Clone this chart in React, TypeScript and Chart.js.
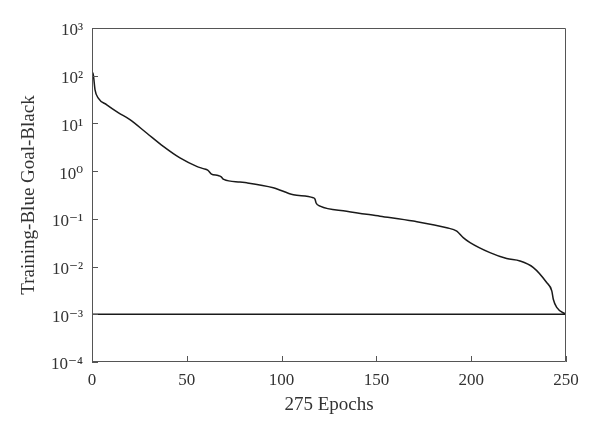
import React, { useEffect, useRef } from "react";
import { Chart, registerables } from "chart.js";

Chart.register(...registerables);

// Training curve (epoch, performance)
const epochs = [0, 0.7, 1.6, 3.3, 7.8, 14, 20, 28.8, 37.6, 46.4, 55.2, 58.7, 61, 63, 66.5, 68, 69.5, 78, 81.6, 95.6, 106.2, 116.7, 117.6, 118.2, 120.3, 134.3, 151.9, 169.5, 187.1, 192.4, 195.8, 199.4, 209.9, 218.7, 225.7, 232.8, 239.8, 242.5, 243.3, 245.1, 249.5, 250];
const trainingValues = [120, 104, 50.7, 34, 24.6, 16.7, 12, 6.3, 3.3, 1.89, 1.26, 1.13, 1.05, 0.87, 0.81, 0.77, 0.67, 0.59, 0.57, 0.45, 0.32, 0.277, 0.26, 0.215, 0.185, 0.145, 0.114, 0.0897, 0.065, 0.0555, 0.0404, 0.0318, 0.0196, 0.0147, 0.0131, 0.00953, 0.00463, 0.0031, 0.00207, 0.00139, 0.00102, 0.001];

// Goal line
const goalEpochs = [0, 250];
const goalValues = [0.001, 0.001];

const yTickValues = [1e-4, 1e-3, 1e-2, 1e-1, 1, 10, 100, 1000];
const yTickLabels = ["10⁻⁴", "10⁻³", "10⁻²", "10⁻¹", "10⁰", "10¹", "10²", "10³"];
const xTickValues = [0, 50, 100, 150, 200, 250];

const xTitle = "275 Epochs";
const yTitle = "Training-Blue Goal-Black";

const FONT = "'Liberation Serif', 'DejaVu Serif', serif";
const TEXT_COLOR = "#333";
const FRAME_COLOR = "#555";

const framePlugin = {
  id: "frameAndTicks",
  afterDraw(chart: any) {
    const { ctx, chartArea, scales } = chart;
    const { left, right, top, bottom } = chartArea;
    ctx.save();
    ctx.strokeStyle = FRAME_COLOR;
    ctx.lineWidth = 1;
    ctx.beginPath();
    ctx.rect(left + 0.5, top + 0.5, right - left - 1, bottom - top - 1);
    ctx.stroke();
    const len = 6;
    ctx.beginPath();
    for (const v of yTickValues) {
      const y = Math.round(scales.y.getPixelForValue(v)) + 0.5;
      ctx.moveTo(left, y);
      ctx.lineTo(left + len, y);
    }
    for (const v of xTickValues) {
      const x = Math.round(scales.x.getPixelForValue(v)) + 0.5;
      ctx.moveTo(x, bottom);
      ctx.lineTo(x, bottom - len);
    }
    ctx.stroke();
    ctx.restore();
  },
};

export default function App() {
  const canvasRef = useRef<HTMLCanvasElement | null>(null);

  useEffect(() => {
    if (!canvasRef.current) return;
    const chart = new Chart(canvasRef.current, {
      type: "line",
      data: {
        datasets: [
          {
            label: "Training",
            data: epochs.map((e, i) => ({ x: e, y: trainingValues[i] })),
            borderColor: "#1a1a1a",
            borderWidth: 1.5,
            pointRadius: 0,
            cubicInterpolationMode: "monotone",
            fill: false,
          },
          {
            label: "Goal",
            data: goalEpochs.map((e, i) => ({ x: e, y: goalValues[i] })),
            borderColor: "#1a1a1a",
            borderWidth: 1.5,
            pointRadius: 0,
            fill: false,
          },
        ],
      },
      options: {
        responsive: false,
        animation: false,
        layout: { padding: { top: 28, right: 34, left: 0, bottom: 0 } },
        plugins: { legend: { display: false }, tooltip: { enabled: false } },
        scales: {
          x: {
            type: "linear",
            min: 0,
            max: 250,
            afterBuildTicks: (s: any) => {
              s.ticks = xTickValues.map((v) => ({ value: v }));
            },
            afterFit: (s: any) => {
              s.height = 75;
            },
            grid: { display: false, drawTicks: false },
            border: { display: false },
            ticks: {
              padding: 8,
              maxRotation: 0,
              color: TEXT_COLOR,
              font: { family: FONT, size: 17 },
            },
            title: {
              display: true,
              text: xTitle,
              color: TEXT_COLOR,
              font: { family: FONT, size: 19 },
              padding: { top: 0, bottom: 21 },
            },
          },
          y: {
            type: "logarithmic",
            min: 1e-4,
            max: 1e3,
            afterBuildTicks: (s: any) => {
              s.ticks = yTickValues.map((v) => ({ value: v }));
            },
            afterFit: (s: any) => {
              s.width = 92;
            },
            grid: { display: false, drawTicks: false },
            border: { display: false },
            ticks: {
              padding: 9,
              labelOffset: 3,
              color: TEXT_COLOR,
              font: { family: FONT, size: 17 },
              callback: (v: any) => {
                const i = yTickValues.findIndex((t) => Math.abs(Math.log10(t) - Math.log10(Number(v))) < 1e-6);
                return i >= 0 ? yTickLabels[i] : "";
              },
            },
            title: {
              display: true,
              text: yTitle,
              color: TEXT_COLOR,
              font: { family: FONT, size: 19 },
              padding: { top: 18, bottom: 0 },
            },
          },
        },
      },
      plugins: [framePlugin],
    } as any);
    return () => chart.destroy();
  }, []);

  return (
    <div style={{ position: "absolute", left: 0, top: 0, width: 600, height: 437, background: "#fff" }}>
      <canvas ref={canvasRef} width={600} height={437} />
    </div>
  );
}
